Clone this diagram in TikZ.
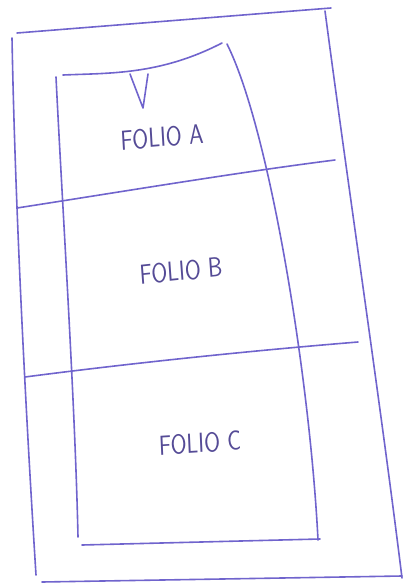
\documentclass[tikz,border=0pt]{standalone}
\usepackage{fontspec}
\definecolor{ink}{RGB}{112,100,205}
\definecolor{textink}{RGB}{85,75,150}
\tikzset{
  pen/.style={draw=ink, line width=1.6pt, line cap=round, line join=round},
  label/.style={text=textink, font=\sffamily\fontsize{23}{23}\selectfont, inner sep=0pt, yscale=1.2, transform shape}
}
\begin{document}
\begin{tikzpicture}[x=1pt,y=-1pt]
\useasboundingbox (0,0) rectangle (404,586);
% outer sheet
\draw[pen] (17,33) -- (331,8);
\draw[pen] (325,11) .. controls (350,200) and (380,400) .. (402,578);
\draw[pen] (12,38) .. controls (15,200) and (25,400) .. (36,575);
\draw[pen] (42,582) -- (402,576);
% inner shape
\draw[pen] (63,75) .. controls (110,73) and (160,75) .. (222,43);
\draw[pen] (56,77) .. controls (62,200) and (75,400) .. (78,537);
\draw[pen] (227,44) .. controls (270,130) and (310,380) .. (318,540);
\draw[pen] (82,545) -- (320,539);
% division lines
\draw[pen] (17,208) .. controls (120,192) and (240,172) .. (335,160);
\draw[pen] (25,377) .. controls (140,362) and (260,350) .. (358,342);
% V mark
\draw[pen] (130,74) -- (143,108) -- (148,74);
% labels
\node[label, rotate=4] (a) at (162,137) {FOLIO A};
\node[label, rotate=5] (b) at (181,271) {FOLIO B};
\node[label, rotate=3] (c) at (200,443) {FOLIO C};
\end{tikzpicture}
\end{document}
